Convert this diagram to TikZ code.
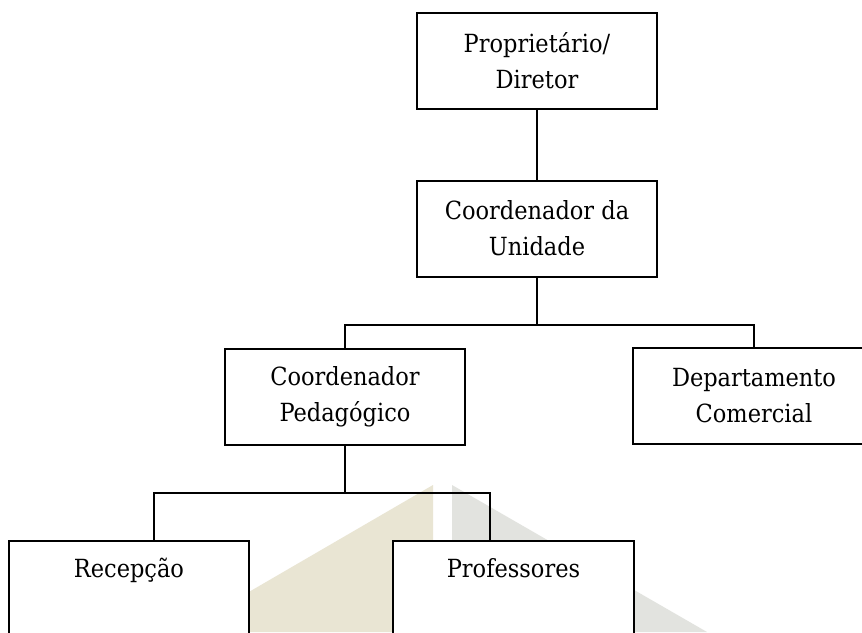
\documentclass[tikz,border=0pt]{standalone}
\usepackage{fontspec}
\setmainfont{DejaVu Serif Condensed}
\begin{document}
\begin{tikzpicture}[x=1pt,y=-1pt,
  box/.style={draw=black,line width=2pt,fill=white,minimum width=240pt,minimum height=96pt,
    inner sep=0pt,outer sep=0pt,align=center,anchor=center,
    font=\fontsize{25}{36}\selectfont},
  conn/.style={draw=black,line width=1.6pt}]
\clip (0,0) rectangle (862,632);
\fill[white] (0,0) rectangle (862,632);
% watermark shapes
\fill[fill={rgb,255:red,233;green,229;blue,211}] (433,485) -- (433,632) -- (180,632) -- cycle;
\fill[fill={rgb,255:red,226;green,227;blue,223}] (452,485) -- (707,632) -- (452,632) -- cycle;
% nodes
\node[box] (dir) at (537,60.5) {Proprietário/\\Diretor};
\node[box] (unid) at (537,228.5) {Coordenador da\\Unidade};
\node[box] (ped) at (345,396.5) {Coordenador\\Pedagógico};
\node[box,minimum width=242pt] (dep) at (754,396) {Departamento\\Comercial};
\node[box] (rec) at (129,589) {Recepção\\\phantom{Pedagógico}};
\node[box,minimum width=241pt] (prof) at (513.5,589) {Professores\\\phantom{Pedagógico}};
\coordinate (j1) at (537,325);
\coordinate (j2) at (345,493);
% connectors
\draw[conn] (dir.south) -- (unid.north);
\draw[conn] (unid.south) -- (j1);
\draw[conn] (ped.north) |- (j1) -| (dep.north);
\draw[conn] (ped.south) -- (j2);
\draw[conn] ([xshift=25pt]rec.north) |- (j2) -| ([xshift=-23.5pt]prof.north);
\end{tikzpicture}
\end{document}
